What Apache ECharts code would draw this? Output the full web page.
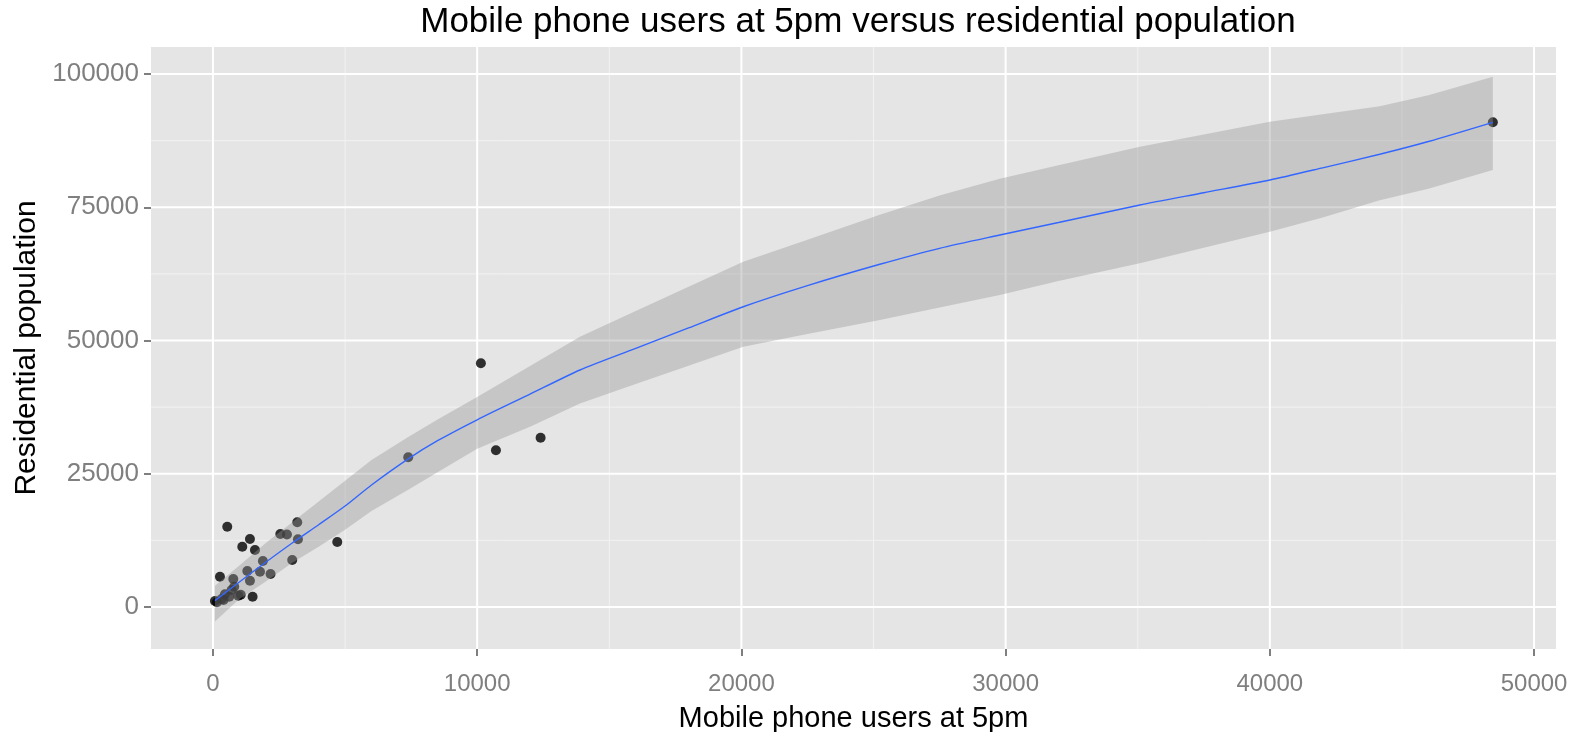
<!DOCTYPE html>
<html><head><meta charset="utf-8">
<script src="https://cdn.jsdelivr.net/npm/echarts@6/dist/echarts.min.js"></script>
<style>html,body{margin:0;padding:0;background:#fff}#c{width:1579px;height:732px}</style>
</head><body><div id="c"></div><script>
// Tick labels
const xTicks = [0, 10000, 20000, 30000, 40000, 50000];
const xMinor = [5000, 15000, 25000, 35000, 45000];
const yTicks = [0, 25000, 50000, 75000, 100000];
const yMinor = [12500, 37500, 62500, 87500];

// Observed points
const usersAt5pm = [76, 150, 328, 400, 454, 617, 706, 770, 806, 958, 1050, 265, 541, 1110, 1400, 1590, 1300, 1400, 1500, 1780, 1890, 2180, 2550, 2800, 3000, 3190, 3217, 4705, 7390, 10140, 10710, 12400, 48440];
const residentialPop = [1130, 900, 1500, 1300, 2380, 1940, 3190, 5250, 3810, 2120, 2300, 5690, 15070, 11320, 12760, 10690, 6750, 4940, 1940, 6620, 8630, 6190, 13700, 13600, 8820, 15890, 12700, 12200, 28090, 45720, 29400, 31770, 90940];

// Smoothed fit with confidence band
const smoothX  = [76, 1000, 2000, 3000, 4000, 5000, 6000, 7390, 8500, 10000, 12000, 13890, 16000, 18000, 20070, 22500, 25240, 27500, 29780, 32000, 35080, 37500, 40000, 42000, 44160, 46000, 48440];
const smoothY  = [1200, 4700, 8400, 12000, 15440, 18940, 22900, 27800, 31200, 35130, 39930, 44470, 48520, 52360, 56340, 60300, 64300, 67300, 69790, 72140, 75420, 77720, 80110, 82400, 84950, 87340, 90940];
const smoothLo = [-2700, 1500, 4800, 8300, 11300, 14500, 18000, 22000, 25300, 29700, 33800, 38200, 41850, 45280, 48840, 51200, 53850, 56180, 58540, 61160, 64480, 67400, 70420, 73090, 76300, 78460, 81990];
const smoothHi = [4000, 7800, 12000, 15900, 19800, 23700, 27600, 31900, 35200, 39400, 45200, 50710, 55520, 60080, 64790, 68920, 73580, 77220, 80350, 82860, 86360, 88670, 91050, 92450, 93970, 96030, 99500];

const X_MIN = -2345, X_MAX = 50830, Y_MIN = -7880, Y_MAX = 105070;

function gridLines(values, vertical, color, width) {
  return {
    type: 'custom', z: 1, silent: true, clip: true,
    data: values.map(v => vertical ? [v, 0] : [0, v]),
    renderItem: function (params, api) {
      const cs = params.coordSys;
      const p = api.coord([api.value(0), api.value(1)]);
      const shape = vertical
        ? { x1: p[0], y1: cs.y, x2: p[0], y2: cs.y + cs.height }
        : { x1: cs.x, y1: p[1], x2: cs.x + cs.width, y2: p[1] };
      return { type: 'line', shape: shape, style: { stroke: color, lineWidth: width } };
    }
  };
}

const chart = echarts.init(document.getElementById('c'));
chart.setOption({
  animation: false,
  backgroundColor: '#ffffff',
  textStyle: { fontFamily: 'Liberation Sans' },
  title: {
    text: 'Mobile phone users at 5pm versus residential population',
    left: 853, top: 0, textAlign: 'center',
    textStyle: { fontFamily: 'Liberation Sans', fontSize: 35, fontWeight: 'normal', color: '#000' }
  },
  grid: { left: 151, right: 23, top: 47, bottom: 83, show: true, backgroundColor: '#e5e5e5', borderWidth: 0,
    containLabel: false, outerBoundsMode: 'none' },
  xAxis: {
    type: 'value', min: X_MIN, max: X_MAX,
    name: 'Mobile phone users at 5pm', nameLocation: 'middle', nameGap: 55,
    nameTextStyle: { fontFamily: 'Liberation Sans', fontSize: 29, color: '#000' },
    axisLine: { show: true, onZero: false, lineStyle: { color: 'rgba(0,0,0,0)', width: 0 } },
    splitLine: { show: false },
    axisTick: { show: true, inside: false, length: 7, customValues: xTicks, lineStyle: { color: '#555', width: 1.5 } },
    axisLabel: { customValues: xTicks, margin: 23, fontSize: 24, color: '#7f7f7f', fontFamily: 'Liberation Sans',
      formatter: v => String(v) }
  },
  yAxis: {
    type: 'value', min: Y_MIN, max: Y_MAX,
    name: 'Residential population', nameLocation: 'middle', nameGap: 106,
    nameTextStyle: { fontFamily: 'Liberation Sans', fontSize: 30, color: '#000' },
    axisLine: { show: true, onZero: false, lineStyle: { color: 'rgba(0,0,0,0)', width: 0 } },
    splitLine: { show: false },
    axisTick: { show: true, inside: false, length: 7, customValues: yTicks, lineStyle: { color: '#555', width: 1.5 } },
    axisLabel: { customValues: yTicks, margin: 12, fontSize: 26, color: '#7f7f7f', fontFamily: 'Liberation Sans',
      formatter: v => String(v) }
  },
  series: [
    gridLines(xMinor, true, '#f2f2f2', 1),
    gridLines(yMinor, false, '#f2f2f2', 1),
    gridLines(xTicks, true, '#ffffff', 2),
    gridLines(yTicks, false, '#ffffff', 2),
    {
      type: 'scatter', z: 2, symbolSize: 10,
      data: usersAt5pm.map((x, i) => [x, residentialPop[i]]),
      itemStyle: { color: '#000000' }
    },
    {
      type: 'custom', z: 3, silent: true,
      data: [[smoothX[0], smoothY[0]]],
      renderItem: function (params, api) {
        const pts = [];
        for (let i = 0; i < smoothX.length; i++) pts.push(api.coord([smoothX[i], smoothHi[i]]));
        for (let i = smoothX.length - 1; i >= 0; i--) pts.push(api.coord([smoothX[i], smoothLo[i]]));
        return { type: 'polygon', shape: { points: pts }, style: { fill: 'rgba(153,153,153,0.4)' } };
      }
    },
    {
      type: 'line', z: 4, showSymbol: false, silent: true, smooth: 0.25,
      data: smoothX.map((x, i) => [x, smoothY[i]]),
      lineStyle: { color: '#3366FF', width: 1.4 }
    }
  ]
});
</script></body></html>
